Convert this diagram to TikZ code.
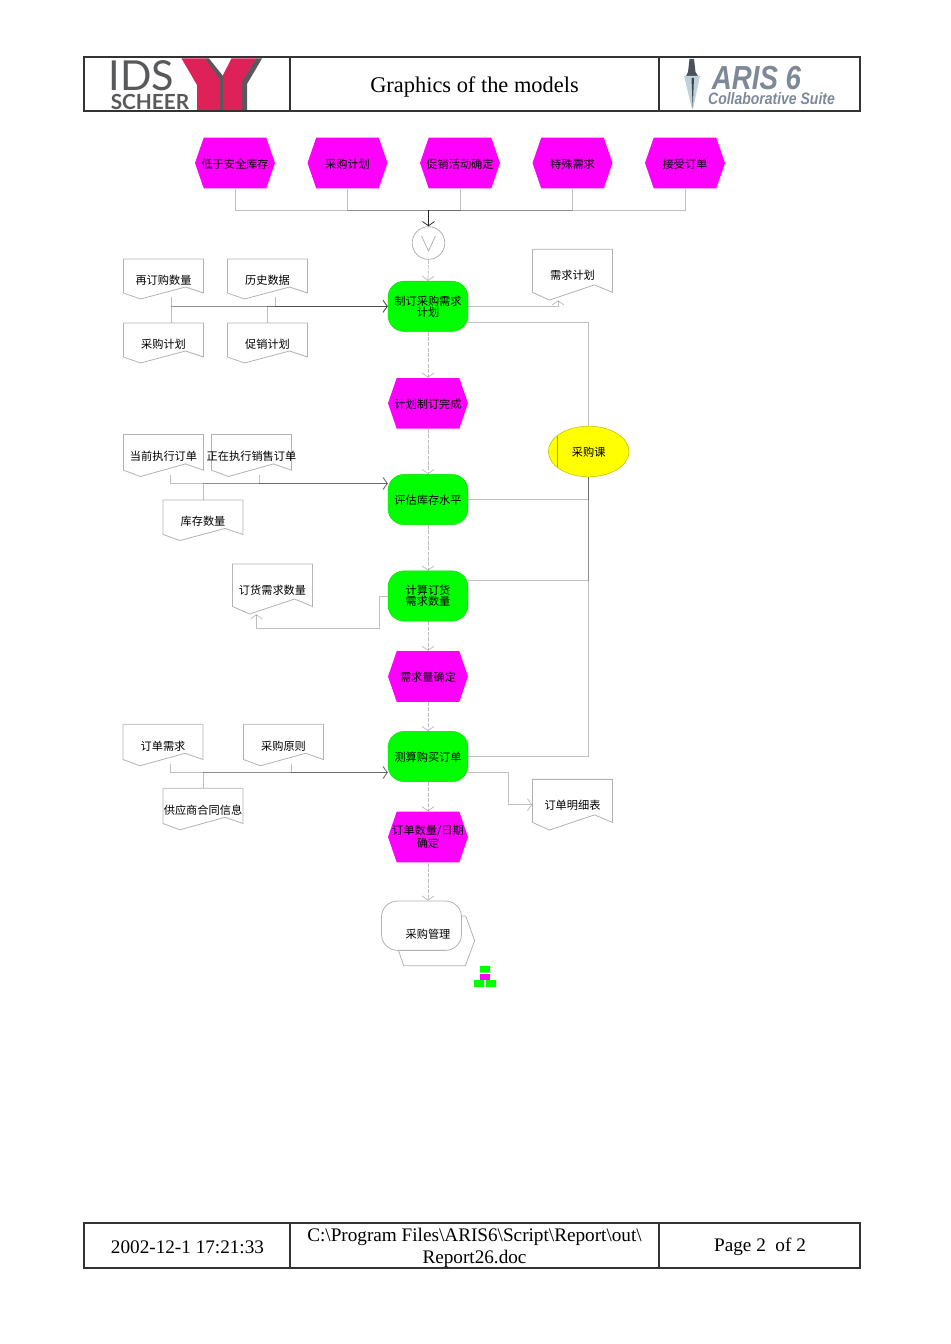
\documentclass[tikz,border=0pt]{standalone}
\usepackage{fontspec}
\setmainfont{Liberation Serif}
\newfontfamily\cjk{Noto Sans CJK SC}
\newfontfamily\logosans{Lato}
\newfontfamily\arissans{Liberation Sans}
\usetikzlibrary{arrows.meta}
\usetikzlibrary{shapes.geometric}
\definecolor{framegray}{HTML}{333333}
\definecolor{logogray}{HTML}{58595B}
\definecolor{logored}{HTML}{DF2159}
\definecolor{arisgray}{HTML}{7D8998}
\definecolor{eventpink}{HTML}{FF00FF}
\definecolor{funcgreen}{HTML}{00FF00}
\definecolor{orgyellow}{HTML}{FFFF00}
\tikzset{
	labeltweak/.style={text height=8.6pt},
	twolines/.style={labeltweak/.style={}},
	cjklabel/.style={font=\cjk\fontsize{8.4}{8.3}\selectfont,align=center,inner sep=0pt,text=black,labeltweak},
	tablelabel/.style={font=\fontsize{14.4}{16.6}\selectfont,align=center,inner sep=0pt},
	logolabel/.style={inner sep=0pt,text depth=0pt},
	thinline/.style={draw=black,draw opacity=0.25,line width=0.6pt},
	midline/.style={thinline,dash pattern=on 3pt off 1pt},
	flowtip/.style={-{Straight Barb[length=3.2pt,width=9pt]}},
	shapeline/.style={draw=black!30,line width=0.6pt},
	funcbox/.style={cjklabel,fill=funcgreen,draw=funcgreen!85!black,line width=0.3pt,rounded corners=12pt,minimum width=60pt,minimum height=37.7pt},
	orgbox/.style={cjklabel,ellipse,fill=orgyellow,draw=orgyellow!75!black,line width=0.4pt,minimum width=60.5pt,minimum height=38pt},
	gatebox/.style={circle,shapeline,minimum size=24.5pt,inner sep=0pt},
	pics/eventbox/.style={code={
		\fill[eventpink] (-40,0) -- (-31.3,-25.3) -- (31.3,-25.3) -- (40,0) -- (31.3,25.3) -- (-31.3,25.3) -- cycle;
		\node[cjklabel,minimum width=60pt,minimum height=38pt] (-box) at (0,0) {#1};
	}},
	pics/docbox/.style n args={2}{code={
		\draw[shapeline,fill=white] (-40,#1/2) -- (40,#1/2) -- (40,-0.35*#1) -- (22,-0.2*#1) -- (-23,-0.5*#1) -- (-40,-0.35*#1) -- cycle;
		\node[cjklabel,minimum width=60pt,minimum height=#1*0.75pt] (-box) at (0,0) {#2};
	}}
}
\begin{document}
\begin{tikzpicture}[x=0.75pt,y=0.75pt,yscale=-1,xscale=1]
	\useasboundingbox (0,0) rectangle (950,1344);

	%Shape: header and footer frames
	\draw[framegray,line width=0.9pt] (84,57) rectangle (860,111) (290,57) -- (290,111) (659,57) -- (659,111);
	\draw[framegray,line width=0.9pt] (84,1223) rectangle (860,1268) (290,1223) -- (290,1268) (659,1223) -- (659,1268);

	%Shape: left logo
	\fill[logogray] (205,58.5) -- (209,58.5) -- (223,76) -- (223,110) -- (218,110) -- (218,80) -- cycle;
	\fill[logogray] (256,58.5) -- (262,58.5) -- (247,84) -- (247,110) -- (241,110) -- (241,82) -- cycle;
	\fill[logored] (181.5,58.5) -- (205,58.5) -- (220,80) -- (220,110) -- (197,110) -- (197,85) -- cycle;
	\fill[logored] (231.5,58.5) -- (256,58.5) -- (242,82) -- (242,110) -- (223,110) -- (223,75) -- cycle;
	% Text Node
	\node[logolabel,font=\logosans\fontsize{31}{31}\selectfont,text=logogray,text height=22.3pt] (idstext) at (141.5,76) {IDS};
	\node[logolabel,font=\logosans\bfseries\fontsize{15.6}{16}\selectfont,text=logogray,text height=11.2pt] (scheertext) at (150,102.5) {SCHEER};

	%Shape: right logo
	\fill[arisgray!60!black] (689.5,59) -- (694,59) -- (695.5,72) -- (698,76) -- (686,76) -- (688,72) -- cycle;
	\fill[cyan!30!gray!45!white] (684,76) -- (700,76) -- (693,109) -- (692,109) -- cycle;
	\fill[arisgray!50!black] (691.5,78) -- (694,78) -- (692.7,108) -- cycle;
	% Text Node
	\node[logolabel,font=\arissans\bfseries\itshape\fontsize{25}{25}\selectfont,text=arisgray,text height=18pt] (aristext) at (756.5,78) {\scalebox{0.83}[1]{ARIS 6}};
	\node[logolabel,font=\arissans\bfseries\itshape\fontsize{12.4}{13}\selectfont,text=arisgray,text height=9pt] (suitetext) at (771.5,99) {\scalebox{0.846}[1]{Collaborative Suite}};

	% Text Node
	\node[font=\fontsize{16.8}{18}\selectfont,inner sep=0pt] (title) at (474.5,87) {Graphics of the models};
	\node[tablelabel] (datetext) at (187.5,1247) {2002-12-1 17:21:33};
	\node[tablelabel] (pathtext) at (474.5,1248) {C:\textbackslash Program Files\textbackslash ARIS6\textbackslash Script\textbackslash Report\textbackslash out\textbackslash\\Report26.doc};
	\node[tablelabel] (pagetext) at (760,1247) {Page 2\ \ of 2};

	%Shape: start events
	\pic (ev1) at (235,163) {eventbox={低于安全库存}};
	\pic (ev2) at (347.5,163) {eventbox={采购计划}};
	\pic (ev3) at (460,163) {eventbox={促销活动确定}};
	\pic (ev4) at (572.5,163) {eventbox={特殊需求}};
	\pic (ev5) at (685,163) {eventbox={接受订单}};

	%Shape: gate
	\node[gatebox] (gate) at (428.5,243) {};
	\coordinate (bus) at (428.5,210);
	\draw[shapeline] ([shift={(-7,-7)}]gate.center) -- ([shift={(0,8)}]gate.center) -- ([shift={(7,-7)}]gate.center);

	%Shape: main flow
	\node[twolines,funcbox] (fn1) at (428,306.3) {制订采购需求\\计划};
	\pic (ev6) at (428,403.3) {eventbox={计划制订完成}};
	\node[funcbox] (fn2) at (428,499.5) {评估库存水平};
	\node[twolines,funcbox] (fn3) at (428,596) {计算订货\\需求数量};
	\pic (ev7) at (428,676.5) {eventbox={需求量确定}};
	\node[funcbox] (fn4) at (428,756.5) {测算购买订单};
	\pic[twolines] (ev8) at (428,837) {eventbox={订单数量/日期\\确定}};

	%Shape: process interface
	\draw[shapeline] (461,916) -- (465.7,916) -- (474.7,940.7) -- (465.3,965.7) -- (403.7,965.7) -- (398.3,950);
	\node[cjklabel,draw=black!30,line width=0.6pt,fill=white,rounded corners=12pt,minimum width=60pt,minimum height=37pt] (proc) at (421.5,925.7) {};
	\node[cjklabel] (proctext) at (428,933.5) {采购管理};

	%Shape: small model symbol
	\fill[funcgreen] (480,966) rectangle (490,972.5) (474,980) rectangle (484,987) (486,980) rectangle (496,987);
	\fill[eventpink] (480,973.5) rectangle (490,979.5);

	%Shape: organisation
	\node[orgbox] (org) at (588.7,451.5) {采购课};
	\draw[orgyellow!65!black,line width=0.3pt] ([shift={(-32,-15.5)}]org.center) -- ([shift={(-32,15.5)}]org.center);

	%Shape: documents
	\pic (doc1) at (163.5,279) {docbox={40}{再订购数量}};
	\pic (doc2) at (267.5,279) {docbox={40}{历史数据}};
	\pic (doc3) at (163.5,343) {docbox={40}{采购计划}};
	\pic (doc4) at (267.5,343) {docbox={40}{促销计划}};
	\pic (doc5) at (572.5,274.7) {docbox={50.7}{需求计划}};
	\pic (doc6) at (163.5,455.5) {docbox={42}{当前执行订单}};
	\pic (doc7) at (251.5,455.5) {docbox={42}{正在执行销售订单}};
	\pic (doc8) at (203,520.3) {docbox={40.5}{库存数量}};
	\pic (doc9) at (272.5,589) {docbox={50}{订货需求数量}};
	\pic (doc10) at (163,745) {docbox={41.5}{订单需求}};
	\pic (doc11) at (283.5,745) {docbox={41.5}{采购原则}};
	\pic (doc12) at (203,809) {docbox={41.5}{供应商合同信息}};
	\pic (doc13) at (572.5,804.7) {docbox={50.7}{订单明细表}};

	%Straight Lines: events to gate
	\foreach \evname in {ev1,ev2,ev3,ev4,ev5}
		\draw[thinline] (\evname-box.south) |- (bus);
	\draw[black!85,line width=0.6pt,flowtip] (bus) -- (gate.north);

	%Straight Lines: main flow
	\draw[midline,flowtip] (gate.south) -- (fn1.north);
	\draw[midline,flowtip] (fn1.south) -- (ev6-box.north);
	\draw[midline,flowtip] (ev6-box.south) -- (fn2.north);
	\draw[midline,flowtip] (fn2.south) -- (fn3.north);
	\draw[midline,flowtip] (fn3.south) -- (ev7-box.north);
	\draw[midline,flowtip] (ev7-box.south) -- (fn4.north);
	\draw[midline,flowtip] (fn4.south) -- (ev8-box.north);
	\draw[midline,flowtip] (ev8-box.south) -- (ev8-box.south |- proc.north);

	%Straight Lines: inputs
	\draw[thinline,flowtip] ([shift={(8,-2)}]doc1-box.south) |- (fn1.west);
	\draw[thinline,flowtip] ([shift={(8,-2)}]doc2-box.south) |- (fn1.west);
	\draw[thinline,flowtip] ([shift={(8,0)}]doc3-box.north) |- (fn1.west);
	\draw[thinline,flowtip] (doc4-box.north) |- (fn1.west);
	\draw[thinline,flowtip] ([shift={(7,-2)}]doc6-box.south) |- ([shift={(0,-16)}]fn2.west);
	\draw[thinline,flowtip] ([shift={(8,-2)}]doc7-box.south) |- ([shift={(0,-16)}]fn2.west);
	\draw[thinline,flowtip] (doc8-box.north) |- ([shift={(0,-16)}]fn2.west);
	\draw[thinline,flowtip] ([shift={(7,-2)}]doc10-box.south) |- ([shift={(0,16)}]fn4.west);
	\draw[thinline,flowtip] ([shift={(8,-2)}]doc11-box.south) |- ([shift={(0,16)}]fn4.west);
	\draw[thinline,flowtip] (doc12-box.north) |- ([shift={(0,16)}]fn4.west);

	%Straight Lines: outputs
	\draw[thinline,flowtip] (fn1.east) -| ([shift={(-14.5,0)}]doc5-box.south);
	\draw[thinline,flowtip] (fn3.west) -- ++(-8.7,0) -- ++(0,32.7) -| ([shift={(-16,0)}]doc9-box.south);
	\draw[thinline,flowtip] ([shift={(0,16)}]fn4.east) -- ++(40,0) |- (doc13-box.west);

	%Straight Lines: organisation
	\draw[thinline] ([shift={(0,16)}]fn1.east) -| (org.north);
	\draw[thinline] (org.south) |- (fn2.east);
	\draw[thinline] (org.south) |- ([shift={(0,-16)}]fn3.east);
	\draw[thinline] (org.south) |- (fn4.east);
\end{tikzpicture}
\end{document}
